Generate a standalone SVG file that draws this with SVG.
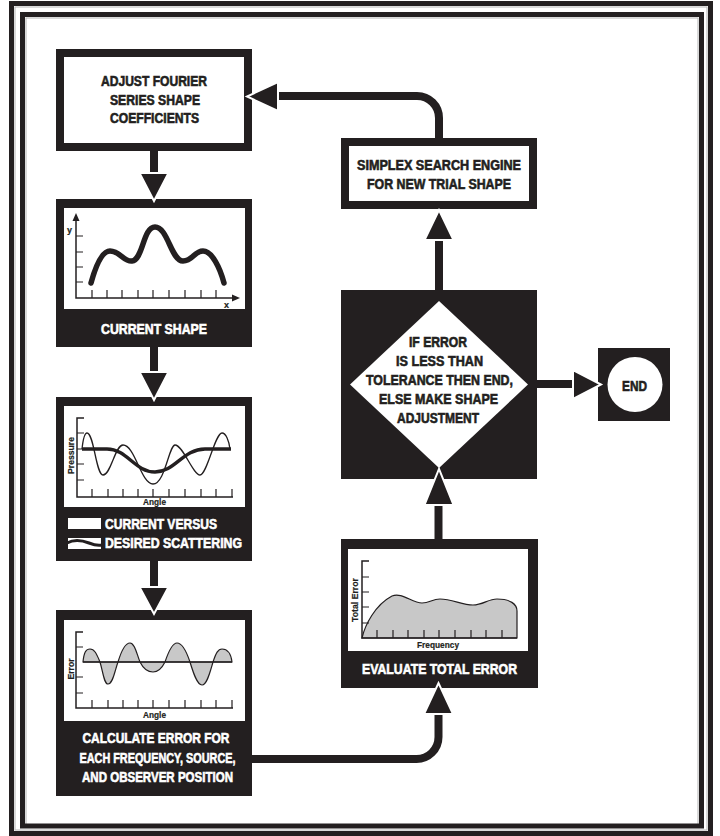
<svg xmlns="http://www.w3.org/2000/svg" width="720" height="836" viewBox="0 0 720 836">
<style>
.blk{fill:#231f20}
.wht{fill:#fff}
.frame{fill:none;stroke:#231f20;stroke-width:5}
.gframe{fill:none;stroke:#b4b4b4;stroke-width:1}
.bx{fill:#fff;stroke:#231f20;stroke-width:8}
.lbl{font-family:"Liberation Sans",Arial,sans-serif;font-weight:bold;font-size:14.5px;text-anchor:middle;fill:#231f20;stroke:#231f20;stroke-width:0.6}
.lblw{font-family:"Liberation Sans",Arial,sans-serif;font-weight:bold;font-size:14.5px;text-anchor:middle;fill:#fff;stroke:#fff;stroke-width:0.6}
.lblwl{font-family:"Liberation Sans",Arial,sans-serif;font-weight:bold;font-size:14.5px;fill:#fff;stroke:#fff;stroke-width:0.6}
.sm{font-family:"Liberation Sans",Arial,sans-serif;font-weight:bold;font-size:9px;text-anchor:middle;fill:#231f20;stroke:#231f20;stroke-width:0.2}
.ax{fill:none;stroke:#231f20;stroke-width:1.5}
.tk{fill:none;stroke:#231f20;stroke-width:1.2}
.con{fill:none;stroke:#231f20;stroke-width:8}
.ah{fill:#231f20;stroke:#fff;stroke-width:2;stroke-linejoin:miter}
.err{fill:#c8c8c8;stroke:#231f20;stroke-width:1.2}
</style>
<rect x="0" y="0" width="720" height="836" fill="#fff"/>
<g id="frame">
<rect class="gframe" x="15" y="7" width="692" height="823"/>
<rect class="gframe" x="26" y="18" width="672" height="808"/>
<rect class="frame" x="11.5" y="3.5" width="699" height="830"/>
<rect class="frame" x="22.5" y="14.5" width="679" height="811.5"/>
</g>

<g id="connectors">
<line class="con" x1="154" y1="150" x2="154" y2="176"/>
<line class="con" x1="154" y1="346" x2="154" y2="375"/>
<line class="con" x1="154" y1="560" x2="154" y2="590"/>
<path class="con" d="M251,759 H416 A22,22 0 0 0 438.5,737 V710"/>
<line class="con" x1="438.5" y1="540" x2="438.5" y2="500"/>
<line class="con" x1="439" y1="291" x2="439" y2="236"/>
<line class="con" x1="536" y1="384" x2="576" y2="384"/>
<path class="con" d="M439,139 V118 A22,22 0 0 0 417,96 H274"/>
</g>

<g id="n1">
<rect class="bx" x="60" y="53" width="188" height="94"/>
<text class="lbl" x="154" y="86" textLength="106" lengthAdjust="spacingAndGlyphs">ADJUST FOURIER</text>
<text class="lbl" x="155" y="104.5" textLength="90" lengthAdjust="spacingAndGlyphs">SERIES SHAPE</text>
<text class="lbl" x="154.5" y="123" textLength="89" lengthAdjust="spacingAndGlyphs">COEFFICIENTS</text>
</g>

<g id="n2">
<rect class="blk" x="56" y="199" width="196" height="148"/>
<rect class="wht" x="64" y="208" width="181" height="101"/>
<path class="ax" d="M76,219 V298 H234"/>
<polygon class="blk" points="76,213 72.5,221 79.5,221"/>
<polygon class="blk" points="240,298 232,294.5 232,301.5"/>
<path class="tk" d="M76,236 H83 M76,252 H83 M76,267 H83 M76,282 H83 M92,298 V290 M107,298 V290 M122,298 V290 M138,298 V290 M153,298 V290 M169,298 V290 M185,298 V290 M201,298 V290 M216,298 V290"/>
<text class="sm" x="69.5" y="233">y</text>
<text class="sm" x="226.5" y="308">x</text>
<path d="M91,283 C96,265 102,251 110,251 C120,251 124,262 132,261 C143,260 143,227 155,227 C168,227 171,261 183,261 C193,261 194,251 203,251 C212,251 220,268 224,283" fill="none" stroke="#231f20" stroke-width="5.5" stroke-linecap="round"/>
<text class="lblw" x="154" y="334" textLength="106" lengthAdjust="spacingAndGlyphs">CURRENT SHAPE</text>
</g>

<g id="n3">
<rect class="blk" x="56" y="397" width="196" height="164"/>
<rect class="wht" x="64" y="406" width="181" height="101"/>
<path class="ax" d="M84,418 H77 V497 H233"/>
<path class="tk" d="M77,433 H84 M77,449 H84 M77,464 H84 M77,480 H84 M92,497 V489 M108,497 V489 M123,497 V489 M138,497 V489 M153,497 V489 M169,497 V489 M185,497 V489 M201,497 V489 M216,497 V489 M232,497 V489"/>
<path d="M82,449 C83,440 85,433 87,433 C94,433 96,475 103,475 C111,475 115,445 123,445 C135,445 141,484 153,484 C165,484 169,445 175,445 C183,445 193,475 200,475 C207,475 215,433 222,433 C226,433 229,441 230,449" fill="none" stroke="#231f20" stroke-width="1.3"/>
<path d="M82,449 L107,449 C127,449 135,472 155,472 C175,472 183,449 205,449 L231,449" fill="none" stroke="#231f20" stroke-width="3.5"/>
<text class="sm" transform="translate(74,455.5) rotate(-90)" textLength="37" lengthAdjust="spacingAndGlyphs">Pressure</text>
<text class="sm" x="154.5" y="505" textLength="23" lengthAdjust="spacingAndGlyphs">Angle</text>
<rect class="wht" x="68" y="518" width="33" height="11"/>
<rect class="wht" x="68" y="538" width="33" height="11"/>
<path d="M67,543 C76,538 84,541 89,543 C94,545 97,546 102,545" fill="none" stroke="#231f20" stroke-width="3"/>
<text class="lblwl" x="105" y="529" textLength="112" lengthAdjust="spacingAndGlyphs">CURRENT VERSUS</text>
<text class="lblwl" x="105" y="548" textLength="137" lengthAdjust="spacingAndGlyphs">DESIRED SCATTERING</text>
</g>

<g id="n4">
<rect class="blk" x="56" y="610" width="196" height="186"/>
<rect class="wht" x="64" y="620" width="181" height="101"/>
<path class="err" d="M83,662 C84,652 86,649 90,649 C95,649 97,655 100,662 C103,672 104,684 108,684 C113,684 115,670 118,662 C121,652 125,643 130,643 C135,643 137,655 140,662 C144,670 148,672 153,672 C158,672 162,668 165,662 C168,653 172,643 177,643 C183,643 187,653 190,662 C193,672 197,685 202,685 C207,685 210,672 213,662 C216,653 218,649 222,649 C228,649 231,654 232,662 Z"/>
<line x1="83" y1="662" x2="232" y2="662" stroke="#231f20" stroke-width="1.3"/>
<path class="ax" d="M83,632 H76 V708 H233"/>
<path class="tk" d="M76,647 H83 M76,677 H83 M76,693 H83 M92,708 V700 M108,708 V700 M123,708 V700 M138,708 V700 M153,708 V700 M169,708 V700 M185,708 V700 M201,708 V700 M216,708 V700 M232,708 V700"/>
<text class="sm" transform="translate(74,669) rotate(-90)" textLength="21" lengthAdjust="spacingAndGlyphs">Error</text>
<text class="sm" x="154.5" y="718" textLength="23" lengthAdjust="spacingAndGlyphs">Angle</text>
<text class="lblw" x="156" y="743" textLength="147" lengthAdjust="spacingAndGlyphs">CALCULATE ERROR FOR</text>
<text class="lblw" x="157.5" y="762.5" textLength="156" lengthAdjust="spacingAndGlyphs">EACH FREQUENCY, SOURCE,</text>
<text class="lblw" x="157.5" y="782" textLength="151" lengthAdjust="spacingAndGlyphs">AND OBSERVER POSITION</text>
</g>

<g id="n5">
<rect class="blk" x="341" y="539" width="197" height="149"/>
<rect class="wht" x="348" y="549" width="180" height="102"/>
<path class="err" d="M362,638 C365,625 375,605 392,596 C402,592 412,603 422,603 C430,603 432,599 440,599 C452,599 462,605 473,605 C483,605 488,599 497,599 C510,599 517,604 517,611 L517,638 Z"/>
<path class="ax" d="M369,561 H362 V638 H517"/>
<path class="tk" d="M362,577 H369 M362,592 H369 M362,607 H369 M362,623 H369 M377,638 V630 M393,638 V630 M408,638 V630 M424,638 V630 M439,638 V630 M455,638 V630 M471,638 V630 M486,638 V630 M502,638 V630"/>
<text class="sm" transform="translate(358,600) rotate(-90)" textLength="44" lengthAdjust="spacingAndGlyphs">Total Error</text>
<text class="sm" x="438" y="648" textLength="42" lengthAdjust="spacingAndGlyphs">Frequency</text>
<text class="lblw" x="439.5" y="674" textLength="155" lengthAdjust="spacingAndGlyphs">EVALUATE TOTAL ERROR</text>
</g>

<g id="n6">
<rect class="blk" x="341" y="290" width="196" height="189"/>
<polygon class="wht" points="439,301 528,384.5 439,468 350,384.5"/>
<text class="lbl" x="438" y="347" textLength="58" lengthAdjust="spacingAndGlyphs">IF ERROR</text>
<text class="lbl" x="439.5" y="366" textLength="87" lengthAdjust="spacingAndGlyphs">IS LESS THAN</text>
<text class="lbl" x="439.5" y="385" textLength="147" lengthAdjust="spacingAndGlyphs">TOLERANCE THEN END,</text>
<text class="lbl" x="438.5" y="404" textLength="119" lengthAdjust="spacingAndGlyphs">ELSE MAKE SHAPE</text>
<text class="lbl" x="438" y="423" textLength="82" lengthAdjust="spacingAndGlyphs">ADJUSTMENT</text>
</g>

<g id="n7">
<rect class="bx" x="345" y="142" width="188" height="63"/>
<text class="lbl" x="439" y="170" textLength="164" lengthAdjust="spacingAndGlyphs">SIMPLEX SEARCH ENGINE</text>
<text class="lbl" x="439" y="188.5" textLength="144" lengthAdjust="spacingAndGlyphs">FOR NEW TRIAL SHAPE</text>
</g>

<g id="n8">
<rect class="blk" x="598" y="348" width="72" height="73"/>
<circle class="wht" cx="635" cy="384.5" r="27.5"/>
<text class="lbl" x="634.5" y="391" textLength="25" lengthAdjust="spacingAndGlyphs">END</text>
</g>

<g id="arrowheads">
<polygon class="ah" points="139.5,173 168.5,173 154,201"/>
<polygon class="ah" points="139.5,372 168.5,372 154,400"/>
<polygon class="ah" points="139.5,587 168.5,587 154,614"/>
<polygon class="ah" points="424,714 453,714 438.5,683"/>
<polygon class="ah" points="424.5,505 453.5,505 439,469"/>
<polygon class="ah" points="424.5,240 453.5,240 439,210"/>
<polygon class="ah" points="573,370 573,399 601,384.5"/>
<polygon class="ah" points="278,82 278,111 247,96.5"/>
</g>
</svg>
